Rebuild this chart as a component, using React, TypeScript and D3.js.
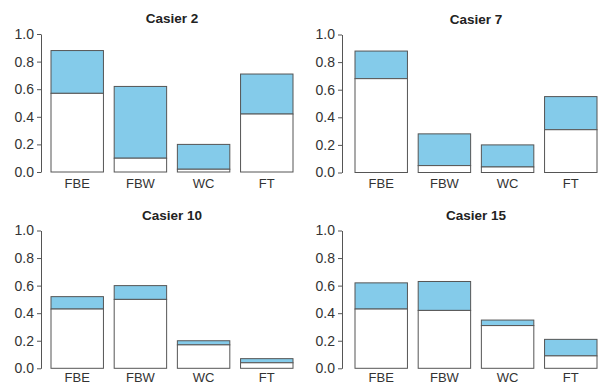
import React, { useEffect, useRef } from 'react';
import * as d3 from 'd3';

const categories = ['FBE', 'FBW', 'WC', 'FT'];
const panelTitles = ['Casier 2', 'Casier 7', 'Casier 10', 'Casier 15'];
const yTicks = [0, 0.2, 0.4, 0.6, 0.8, 1.0];

// total height of each bar (blue top) and the white lower part
const casier2Total = [0.88, 0.62, 0.2, 0.71];
const casier2Low = [0.57, 0.1, 0.02, 0.42];
const casier7Total = [0.88, 0.28, 0.2, 0.55];
const casier7Low = [0.68, 0.05, 0.04, 0.31];
const casier10Total = [0.52, 0.6, 0.2, 0.07];
const casier10Low = [0.43, 0.5, 0.17, 0.04];
const casier15Total = [0.62, 0.63, 0.35, 0.21];
const casier15Low = [0.43, 0.42, 0.31, 0.09];

const totals = [casier2Total, casier7Total, casier10Total, casier15Total];
const lows = [casier2Low, casier7Low, casier10Low, casier15Low];

const W = 603;
const H = 385;
const FONT = '"Liberation Sans", Arial, sans-serif';

export default function App() {
  const ref = useRef<SVGSVGElement>(null);

  useEffect(() => {
    if (!ref.current) return;
    const svg = d3.select(ref.current);
    svg.selectAll('*').remove();

    // panel frames: axis x, bar range, y for 1.0 and 0.0
    const frames = [
      { ax: 41, x0: 51, x1: 293, yTop: 34, yBot: 172 },
      { ax: 342, x0: 355, x1: 597, yTop: 34.5, yBot: 172.5 },
      { ax: 41, x0: 51, x1: 293, yTop: 230.5, yBot: 368.3 },
      { ax: 342, x0: 355, x1: 597, yTop: 230.5, yBot: 368.3 },
    ];

    frames.forEach((f, i) => {
      const g = svg.append('g');
      const x = d3.scaleBand().domain(categories).range([f.x0, f.x1]).paddingInner(0.17).paddingOuter(0);
      const y = d3.scaleLinear().domain([0, 1]).range([f.yBot, f.yTop]);

      const data = categories.map((c, j) => ({ cat: c, total: totals[i][j], low: lows[i][j] }));

      // blue upper part
      g.selectAll('.top')
        .data(data)
        .join('rect')
        .attr('x', d => x(d.cat)!)
        .attr('width', x.bandwidth())
        .attr('y', d => y(d.total))
        .attr('height', d => y(d.low) - y(d.total))
        .attr('fill', '#84CBEA')
        .attr('stroke', '#555')
        .attr('stroke-width', 1);

      // white lower part
      g.selectAll('.low')
        .data(data)
        .join('rect')
        .attr('x', d => x(d.cat)!)
        .attr('width', x.bandwidth())
        .attr('y', d => y(d.low))
        .attr('height', d => y(0) - y(d.low))
        .attr('fill', '#fff')
        .attr('stroke', '#555')
        .attr('stroke-width', 1);

      // y axis
      g.append('g')
        .attr('transform', `translate(${f.ax},0)`)
        .call(d3.axisLeft(y).tickValues(yTicks).tickFormat(d3.format('.1f')).tickSize(4).tickSizeOuter(0))
        .call(a => a.select('.domain').attr('stroke', '#555'))
        .call(a => a.selectAll('.tick line').attr('stroke', '#555'))
        .call(a => a.selectAll('.tick text')
          .attr('fill', '#333')
          .attr('x', -7)
          .style('font-family', FONT)
          .style('font-size', '14px'));

      // category labels (kept inside the picture at the bottom edge)
      g.selectAll('.cat')
        .data(categories)
        .join('text')
        .attr('x', d => x(d)! + x.bandwidth() / 2)
        .attr('y', Math.min(f.yBot + 15.5, H - 3))
        .attr('text-anchor', 'middle')
        .attr('fill', '#333')
        .style('font-family', FONT)
        .style('font-size', '13px')
        .text(d => d);

      // title
      g.append('text')
        .attr('x', (f.x0 + f.x1) / 2)
        .attr('y', f.yTop - 11)
        .attr('text-anchor', 'middle')
        .attr('fill', '#222')
        .style('font-family', FONT)
        .style('font-size', '13.5px')
        .style('font-weight', 'bold')
        .text(panelTitles[i]);
    });
  }, []);

  return (
    <svg
      ref={ref}
      width={W}
      height={H}
      style={{ position: 'absolute', left: 0, top: 0, background: '#fff' }}
    />
  );
}
